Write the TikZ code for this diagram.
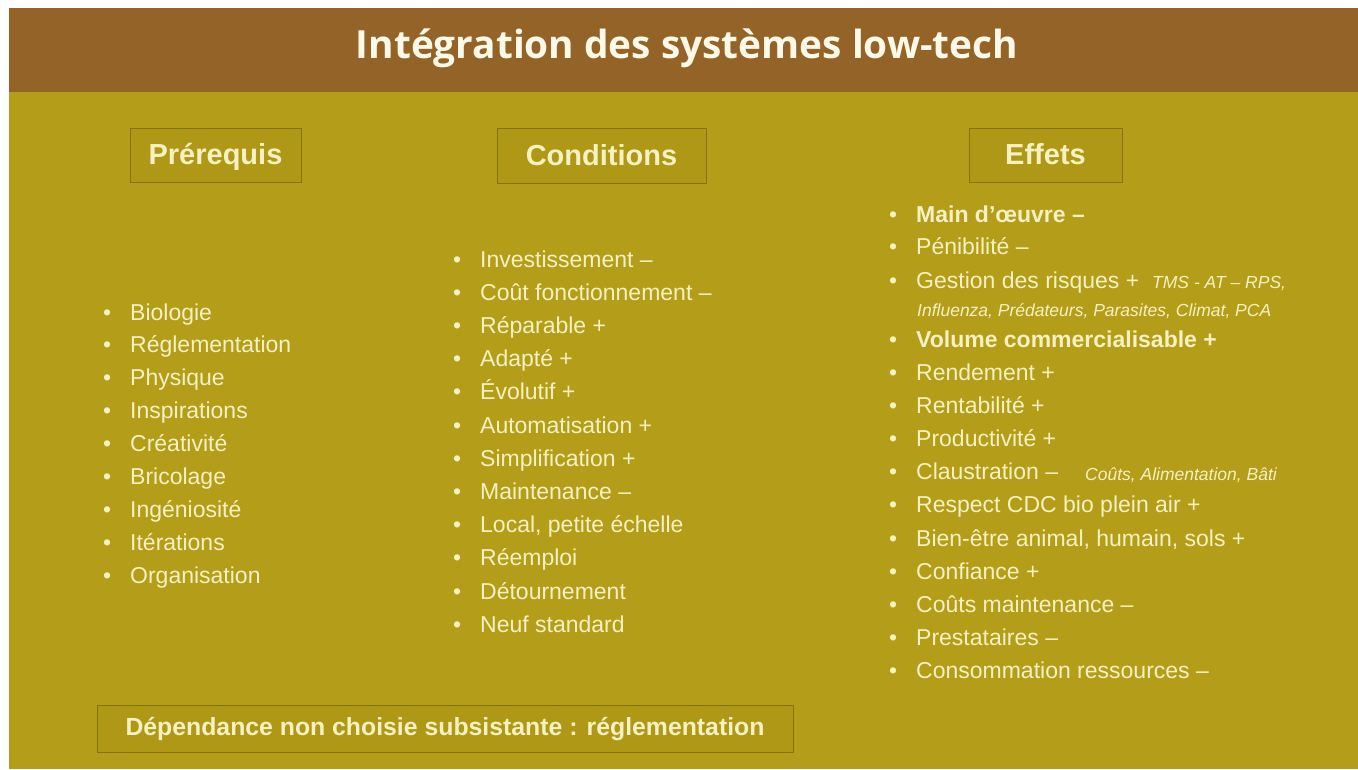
\documentclass[tikz,border=0pt]{standalone}
\usepackage{fontspec}
\setmainfont{Liberation Sans}
\newfontfamily\titlefont{Open Sans}
\usetikzlibrary{positioning}
\definecolor{fond}{HTML}{B49D18}
\definecolor{bandeau}{HTML}{946327}
\definecolor{creme}{HTML}{F6F1C2}
\definecolor{blanc}{HTML}{FCF9E8}
\definecolor{boite}{HTML}{AF9816}
\definecolor{cadre}{HTML}{857311}
\newcommand\bul{\makebox[27pt][l]{\textbullet}}
\tikzset{%
	titre/.style = {text = blanc, font = \titlefont\bfseries\fontsize{38.8}{38.8}\selectfont, anchor = base},
	entete/.style = {draw = cadre, fill = boite, line width = 0.8pt, text = creme, inner sep = 0pt, text height = 23pt, text depth = 4pt, font = \bfseries\fontsize{29}{29}\selectfont},
	itm/.style = {anchor = base west, inner sep = 0pt, text = creme, font = \fontsize{23}{23}\selectfont},
	note/.style = {anchor = base west, inner sep = 0pt, text = creme, font = \itshape\fontsize{17.5}{17.5}\selectfont}
}
\begin{document}
\begin{tikzpicture}[x=1pt, y=-1pt]
			\useasboundingbox (0,0) rectangle (1358,769);
			\fill [white] (0,0) rectangle (1358,769);
			\fill [fond] (9,8) rectangle (1358,769);
			\fill [bandeau] (9,8) rectangle (1358,92);
			\node [titre] (title) at (687,58) {Intégration des systèmes low-tech};
			\node [entete, minimum width = 171, minimum height = 54] (pre) at (215.5,155) {Prérequis};
			\node [entete, minimum width = 209, minimum height = 55] (cond) at (601.5,155.5) {Conditions};
			\node [entete, minimum width = 153, minimum height = 54] (eff) at (1045.5,155) {Effets};
			\node [entete, minimum width = 696, minimum height = 47, text height = 18pt, text depth = 4pt, font = \bfseries\fontsize{24.8}{24.8}\selectfont] (dep) at (445,728.5) {Dépendance non choisie subsistante : réglementation};
			\foreach \t [count = \i] in {Biologie, Réglementation, Physique, Inspirations, Créativité, Bricolage, Ingéniosité, Itérations, Organisation}
				\node [itm] (pre\i) at (103,{320+32.9*(\i-1)}) {\bul\t};
			\foreach \t [count = \i] in {Investissement –, Coût fonctionnement –, Réparable +, Adapté +, Évolutif +, Automatisation +, Simplification +, Maintenance –, {Local, petite échelle}, Réemploi, Détournement, Neuf standard}
				\node [itm] (cond\i) at (453,{267+33.2*(\i-1)}) {\bul\t};
			\node [itm] (eff1) at (889,222) {\bul\textbf{Main d’œuvre –}};
			\node [itm] (eff2) at (889,254) {\bul Pénibilité –};
			\node [itm] (eff3) at (889,288) {\bul Gestion des risques +};
			\node [note] (risk) at (1152,288) {TMS - AT – RPS,};
			\node [note] (risk2) at (917,316) {Influenza, Prédateurs, Parasites, Climat, PCA};
			\node [itm] (eff4) at (889,347) {\bul\textbf{Volume commercialisable +}};
			\foreach \t [count = \i from 5] in {Rendement +, Rentabilité +, Productivité +, Claustration –, Respect CDC bio plein air +, {Bien-être animal, humain, sols +}, Confiance +, Coûts maintenance –, Prestataires –, Consommation ressources –}
				\node [itm] (eff\i) at (889,{380+33.2*(\i-5)}) {\bul\t};
			\node [note] (claus) at (1085,480) {Coûts, Alimentation, Bâti};
			\end{tikzpicture}
\end{document}
